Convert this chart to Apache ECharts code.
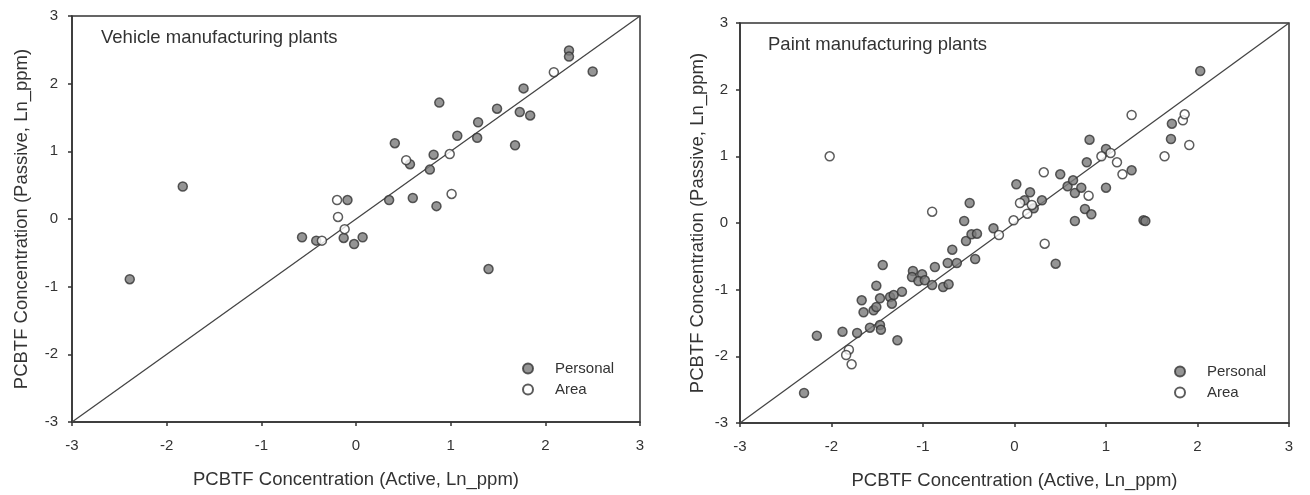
<!DOCTYPE html>
<html>
<head>
<meta charset="utf-8">
<script src="https://cdn.jsdelivr.net/npm/echarts@6/dist/echarts.min.js"></script>
<style>
  html, body { margin: 0; padding: 0; background: #fff; }
  #chart { width: 1310px; height: 495px; }
</style>
</head>
<body>
<div id="chart"></div>
<script>
// vehicle plants [active, passive]
var vehiclePersonal = [
  [-2.39, -0.89], [-1.83, 0.48], [-0.57, -0.27], [-0.42, -0.32], [-0.13, -0.28],
  [-0.02, -0.37], [0.07, -0.27], [-0.09, 0.28], [0.35, 0.28], [0.60, 0.31],
  [0.85, 0.19], [0.41, 1.12], [0.57, 0.81], [0.78, 0.73], [0.82, 0.95],
  [0.88, 1.72], [1.07, 1.23], [1.28, 1.20], [1.29, 1.43], [1.49, 1.63],
  [1.68, 1.09], [1.73, 1.58], [1.77, 1.93], [1.84, 1.53], [2.25, 2.49],
  [2.25, 2.40], [2.50, 2.18], [1.40, -0.74]
];
var vehicleArea = [
  [-0.36, -0.32], [-0.20, 0.28], [-0.19, 0.03], [-0.12, -0.15], [0.53, 0.87],
  [0.99, 0.96], [1.01, 0.37], [2.09, 2.17]
];
// paint plants
var paintPersonal = [
  [-2.30, -2.55], [-2.16, -1.69], [-1.88, -1.63], [-1.72, -1.65], [-1.58, -1.57],
  [-1.47, -1.53], [-1.46, -1.60], [-1.28, -1.76], [-1.67, -1.16], [-1.65, -1.34],
  [-1.54, -1.31], [-1.51, -1.26], [-1.51, -0.94], [-1.47, -1.13], [-1.36, -1.11],
  [-1.32, -1.08], [-1.34, -1.21], [-1.23, -1.03], [-1.44, -0.63], [-1.11, -0.72],
  [-1.12, -0.81], [-1.01, -0.77], [-1.05, -0.87], [-0.98, -0.86], [-0.90, -0.93],
  [-0.87, -0.66], [-0.78, -0.96], [-0.72, -0.92], [-0.73, -0.60], [-0.63, -0.60],
  [-0.68, -0.40], [-0.43, -0.54], [-0.53, -0.27], [-0.47, -0.17], [-0.41, -0.16],
  [-0.55, 0.03], [-0.49, 0.30], [-0.23, -0.08], [0.02, 0.58], [0.11, 0.34],
  [0.17, 0.46], [0.21, 0.22], [0.30, 0.34], [0.45, -0.61], [0.50, 0.73],
  [0.58, 0.55], [0.64, 0.64], [0.66, 0.45], [0.66, 0.03], [0.73, 0.53],
  [0.77, 0.21], [0.84, 0.13], [0.79, 0.91], [0.82, 1.25], [1.00, 0.53],
  [1.00, 1.11], [1.28, 0.79], [1.41, 0.04], [1.43, 0.03], [1.71, 1.26],
  [1.72, 1.49], [2.03, 2.28]
];
var paintArea = [
  [-2.02, 1.00], [-0.90, 0.17], [-1.81, -1.90], [-1.84, -1.98], [-1.78, -2.12],
  [-0.17, -0.18], [-0.01, 0.04], [0.06, 0.30], [0.14, 0.14], [0.19, 0.27],
  [0.32, 0.76], [0.33, -0.31], [0.81, 0.41], [0.95, 1.00], [1.05, 1.05],
  [1.12, 0.91], [1.18, 0.73], [1.28, 1.62], [1.64, 1.00], [1.84, 1.54],
  [1.86, 1.63], [1.91, 1.17]
];
var diagonal = [[-3, -3], [3, 3]];
var axisMin = -3, axisMax = 3, axisStep = 1;

var font = "'Liberation Sans', Arial, sans-serif";
var ink = '#333';

function xAxisFor(idx) {
  return {
    type: 'value', gridIndex: idx, min: axisMin, max: axisMax, interval: axisStep,
    name: 'PCBTF Concentration (Active, Ln_ppm)', nameLocation: 'middle', nameGap: 48,
    nameTextStyle: { fontFamily: font, fontSize: 18.5, color: ink },
    axisLine: { show: true, onZero: false, lineStyle: { color: ink, width: 1.5 } },
    axisTick: { show: true, inside: false, length: 4, lineStyle: { color: ink, width: 1.5 } },
    axisLabel: { fontFamily: font, fontSize: 15, color: ink, margin: 16 },
    splitLine: { show: false }
  };
}
function yAxisFor(idx, gap, lblMargin) {
  return {
    type: 'value', gridIndex: idx, min: axisMin, max: axisMax, interval: axisStep,
    name: 'PCBTF Concentration (Passive, Ln_ppm)', nameLocation: 'middle', nameGap: gap,
    nameTextStyle: { fontFamily: font, fontSize: 18.5, color: ink },
    axisLine: { show: true, onZero: false, lineStyle: { color: ink, width: 1.5 } },
    axisTick: { show: true, inside: false, length: 4, lineStyle: { color: ink, width: 1.5 } },
    axisLabel: { fontFamily: font, fontSize: 15, color: ink, margin: lblMargin },
    splitLine: { show: false }
  };
}

var personalStyle = { color: '#7a7a7a', borderColor: '#333', borderWidth: 1.5 };
var areaStyle = { color: '#fff', borderColor: '#333', borderWidth: 1.5 };

function scatter(name, data, idx, style) {
  return {
    name: name, type: 'scatter', xAxisIndex: idx, yAxisIndex: idx,
    data: data, symbol: 'circle', symbolSize: 9, itemStyle: style, z: 3
  };
}
function diag(idx) {
  return {
    type: 'line', xAxisIndex: idx, yAxisIndex: idx, data: diagonal,
    symbol: 'none', silent: true, lineStyle: { color: '#444', width: 1.3 }, z: 2
  };
}
function legendAt(left, top) {
  return {
    left: left, top: top, orient: 'vertical', padding: 0, itemGap: 6, itemWidth: 10, itemHeight: 10,
    data: ['Personal', 'Area'],
    textStyle: { fontFamily: font, fontSize: 15, color: ink, padding: [0, 0, 0, 17] }
  };
}

var chart = echarts.init(document.getElementById('chart'));
chart.setOption({
  backgroundColor: '#fff',
  animation: false,
  title: [
    { text: 'Vehicle manufacturing plants', left: 101, top: 28, padding: 0,
      textStyle: { fontFamily: font, fontSize: 18.5, fontWeight: 'normal', color: ink } },
    { text: 'Paint manufacturing plants', left: 768, top: 35, padding: 0,
      textStyle: { fontFamily: font, fontSize: 18.5, fontWeight: 'normal', color: ink } }
  ],
  legend: [legendAt(522, 361), legendAt(1174, 364)],
  grid: [
    { left: 72, right: 670, top: 16, bottom: 73, show: true, borderColor: ink, borderWidth: 1.5 },
    { left: 740, right: 21, top: 23, bottom: 72, show: true, borderColor: ink, borderWidth: 1.5 }
  ],
  xAxis: [xAxisFor(0), xAxisFor(1)],
  yAxis: [yAxisFor(0, 41, 14), yAxisFor(1, 33, 12)],
  series: [
    diag(0),
    scatter('Personal', vehiclePersonal, 0, personalStyle),
    scatter('Area', vehicleArea, 0, areaStyle),
    diag(1),
    scatter('Personal', paintPersonal, 1, personalStyle),
    scatter('Area', paintArea, 1, areaStyle)
  ]
});
</script>
</body>
</html>
